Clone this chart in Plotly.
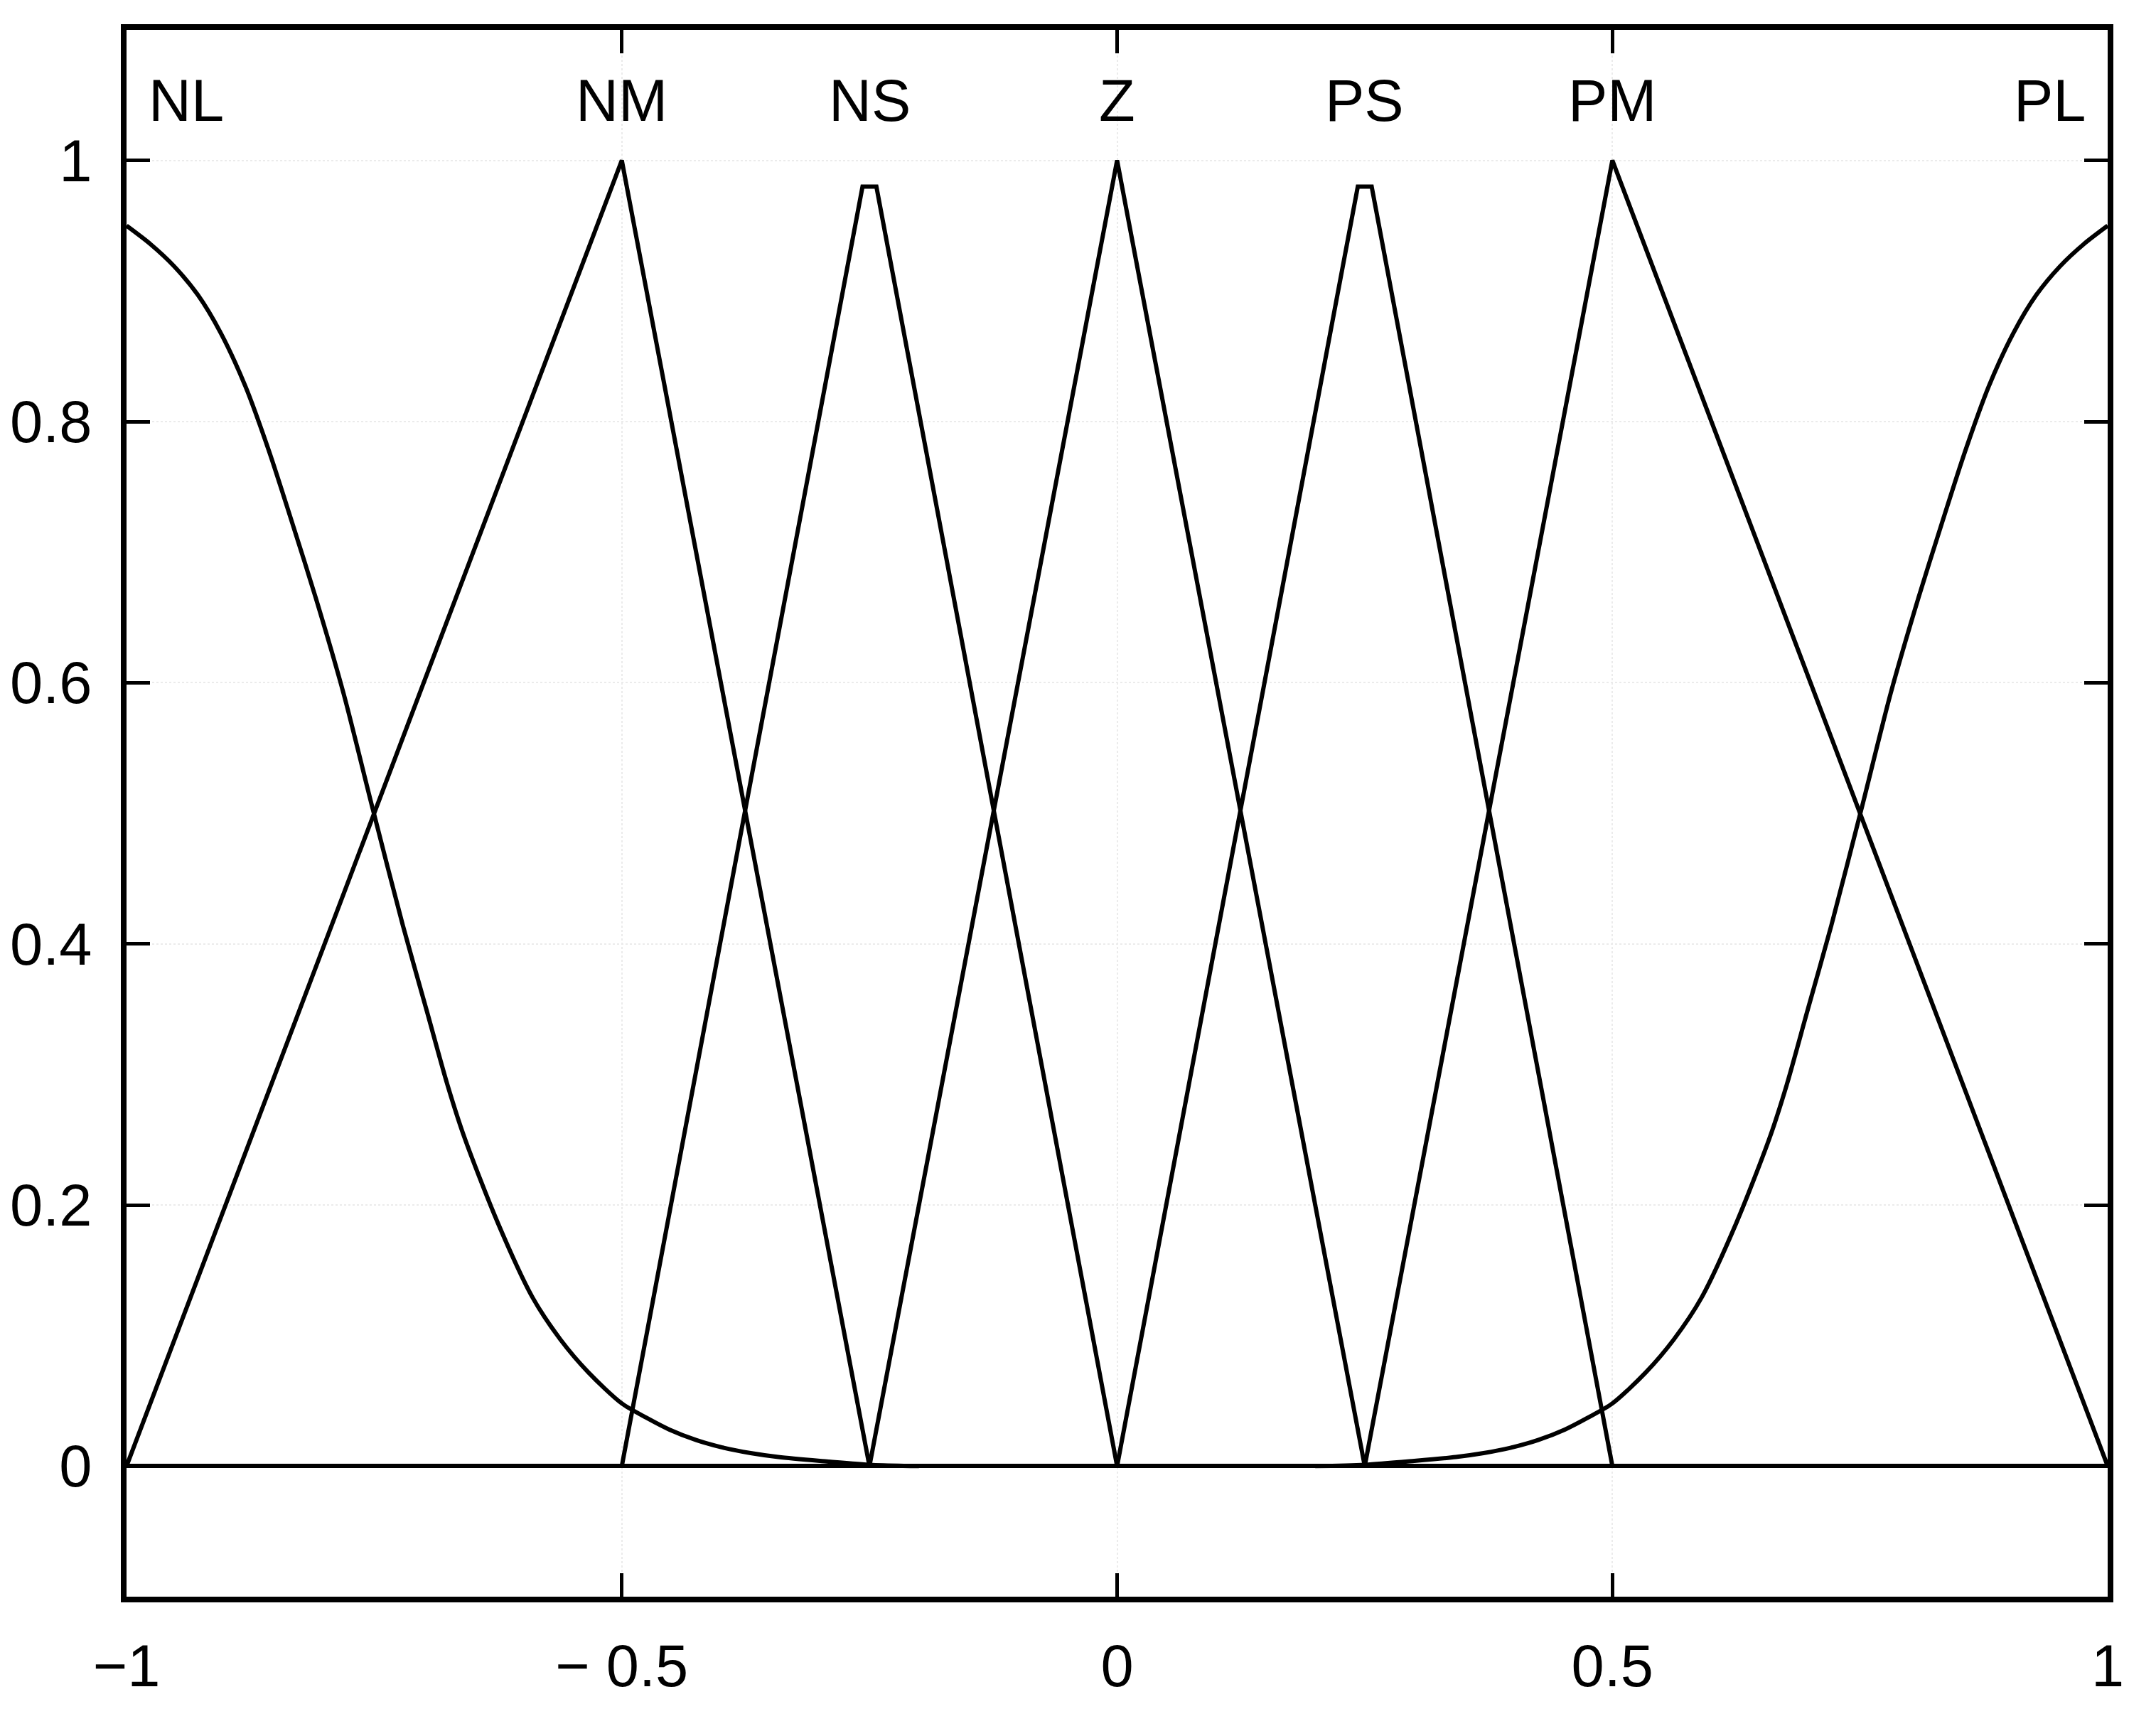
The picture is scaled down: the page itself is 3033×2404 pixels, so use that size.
"""Fuzzy membership functions NL ... PL."""

import plotly.graph_objects as go

# --- data -------------------------------------------------------------------
nl_x = [-1.000, -0.976, -0.952, -0.928, -0.905, -0.880, -0.856, -0.833, -0.809,
        -0.781, -0.751, -0.721, -0.697, -0.676, -0.659, -0.625, -0.590, -0.562,
        -0.534, -0.500, -0.475, -0.452, -0.425, -0.397, -0.370, -0.342, -0.300,
        -0.250, -0.200]
nl_y = [0.950, 0.936, 0.919, 0.897, 0.868, 0.827, 0.777, 0.723, 0.665,
        0.592, 0.502, 0.414, 0.349, 0.292, 0.252, 0.186, 0.129, 0.097,
        0.072, 0.048, 0.037, 0.028, 0.020, 0.014, 0.010, 0.007, 0.004,
        0.001, 0.000]

pl_x = [0.200, 0.250, 0.300, 0.342, 0.370, 0.397, 0.425, 0.452, 0.475, 0.500,
        0.534, 0.562, 0.590, 0.625, 0.659, 0.676, 0.697, 0.721, 0.751, 0.781,
        0.809, 0.833, 0.856, 0.880, 0.905, 0.928, 0.952, 0.976, 1.000]
pl_y = [0.000, 0.001, 0.004, 0.007, 0.010, 0.014, 0.020, 0.028, 0.037, 0.048,
        0.072, 0.097, 0.129, 0.186, 0.252, 0.292, 0.349, 0.414, 0.502, 0.592,
        0.665, 0.723, 0.777, 0.827, 0.868, 0.897, 0.919, 0.936, 0.950]

nm_x = [-1.0, -0.5, -0.25]
nm_y = [0.0, 1.0, 0.0]
ns_x = [-0.5, -0.257, -0.243, 0.0]
ns_y = [0.0, 0.98, 0.98, 0.0]
z_x = [-0.25, 0.0, 0.25]
z_y = [0.0, 1.0, 0.0]
ps_x = [0.0, 0.243, 0.257, 0.5]
ps_y = [0.0, 0.98, 0.98, 0.0]
pm_x = [0.25, 0.5, 1.0]
pm_y = [0.0, 1.0, 0.0]

labels = ["NL", "NM", "NS", "Z", "PS", "PM", "PL"]
label_x = [-0.979, -0.5, -0.25, 0.0, 0.25, 0.5, 0.980]
label_anchor = ["left", "center", "center", "center", "center", "center", "right"]
label_y = 1.046

x_ticks = [-1, -0.5, 0, 0.5, 1]
x_tick_text = ["\u22121", "\u2212 0.5", "0", "0.5", "1"]

FONT = "Liberation Sans, Arial, Helvetica, sans-serif"
SIZE = 83

fig = go.Figure()
triangles = [(nm_x, nm_y), (ns_x, ns_y), (z_x, z_y), (ps_x, ps_y), (pm_x, pm_y)]
for xs, ys in triangles:
    fig.add_trace(
        go.Scatter(
            x=xs, y=ys, mode="lines",
            line=dict(color="black", width=6),
            showlegend=False, hoverinfo="skip",
        )
    )
for xs, ys in [(nl_x, nl_y), (pl_x, pl_y)]:
    fig.add_trace(
        go.Scatter(
            x=xs, y=ys, mode="lines",
            line=dict(color="black", width=6, shape="spline", smoothing=0.8),
            showlegend=False, hoverinfo="skip",
        )
    )

for text, x, anchor in zip(labels, label_x, label_anchor):
    fig.add_annotation(
        x=x, y=label_y, xref="x", yref="y",
        text=text, showarrow=False, xanchor=anchor, yanchor="middle",
        font=dict(family=FONT, size=SIZE, color="black"),
    )

# the page body has an 8px margin, so the figure is a bit smaller than the window
fig.update_layout(
    width=3017,
    height=2388,
    margin=dict(l=170, r=60, t=34, b=150, autoexpand=False),
    paper_bgcolor="white",
    plot_bgcolor="white",
    font=dict(family=FONT, size=SIZE, color="black"),
    showlegend=False,
)
axis_style = dict(
    ticks="inside",
    ticklen=33,
    tickwidth=5,
    tickcolor="black",
    showline=True,
    linecolor="black",
    linewidth=8,
    mirror="ticks",
    showgrid=True,
    gridcolor="#ebebeb",
    gridwidth=2,
    griddash="dot",
    automargin=False,
)
fig.update_xaxes(
    range=[-1, 1],
    tickvals=x_ticks,
    ticktext=x_tick_text,
    zeroline=False,
    ticklabelstandoff=18,
    **axis_style,
)
fig.update_yaxes(
    range=[-0.1, 1.1],
    tick0=0,
    dtick=0.2,
    zeroline=True,
    zerolinecolor="black",
    zerolinewidth=6,
    ticklabelstandoff=24,
    **axis_style,
)

fig.write_html("out.html")
